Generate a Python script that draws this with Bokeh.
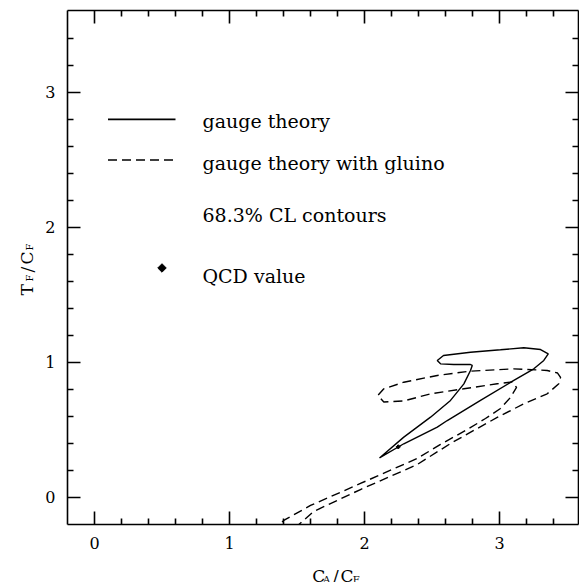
import numpy as np
from bokeh.plotting import figure
from bokeh.layouts import row, column
from bokeh.models import Range1d, LinearAxis, FixedTicker, CustomJSTickFormatter
from bokeh.core.properties import value
from bokeh.embed import file_html
from bokeh.resources import INLINE

# ---------------- data ----------------
# 68.3% CL contour, gauge theory (solid)
gauge_x = [2.111, 2.291, 2.489, 2.637, 2.736, 2.785, 2.798, 2.785, 2.661, 2.563, 2.539,
           2.585, 2.785, 3.007, 3.180, 3.304, 3.361, 3.328, 3.254, 3.106, 2.859, 2.613,
           2.539, 2.291, 2.111]
gauge_y = [0.293, 0.447, 0.595, 0.719, 0.842, 0.941, 0.978, 0.985, 0.985, 0.990, 1.015,
           1.052, 1.076, 1.094, 1.109, 1.096, 1.064, 1.015, 0.953, 0.867, 0.719, 0.570,
           0.521, 0.398, 0.293]

# 68.3% CL contour, gauge theory with gluino (dashed)
gluino_x = [1.389, 1.402, 1.600, 1.970, 2.390, 2.563, 2.761, 2.896, 3.007, 3.081, 3.126,
            3.096, 2.983, 2.736, 2.489, 2.291, 2.143, 2.099, 2.143, 2.291, 2.539, 2.785,
            3.106, 3.353, 3.430, 3.452, 3.439, 3.353, 3.180, 2.983, 2.835, 2.637, 2.390,
            1.970, 1.622, 1.489, 1.415, 1.389]
gluino_y = [-0.181, -0.170, -0.059, 0.104, 0.289, 0.393, 0.504, 0.585, 0.659, 0.741, 0.815,
            0.856, 0.842, 0.805, 0.768, 0.715, 0.707, 0.756, 0.805, 0.854, 0.904, 0.936,
            0.953, 0.941, 0.922, 0.889, 0.842, 0.768, 0.694, 0.593, 0.511, 0.400, 0.244,
            0.059, -0.104, -0.222, -0.230, -0.181]

# QCD value: C_A/C_F = 9/4, T_F/C_F = 3/8
qcd_x = [2.25]
qcd_y = [0.375]

legend_labels = ["gauge theory", "gauge theory with gluino", "68.3% CL contours", "QCD value"]

major_ticks = [0, 1, 2, 3]
minor_ticks = [0.2, 0.4, 0.6, 0.8, 1.2, 1.4, 1.6, 1.8, 2.2, 2.4, 2.6, 2.8, 3.2, 3.4]

# axis-title pieces: (text, is_subscript)
xtitle_parts = [("C", False), ("A", True), ("/", False), ("C", False), ("F", True)]
ytitle_parts = [("T", False), ("F", True), ("/", False), ("C", False), ("F", True)]

# ---------------- layout ----------------
FONT = "DejaVu Serif"
YLAB_W = 38
PW, PH = 541, 555
XLAB_H = 27
TOTAL_H = PH + XLAB_H

p = figure(width=PW, height=PH, x_range=Range1d(-0.2, 3.585), y_range=Range1d(-0.2, 3.607),
           output_backend="svg", toolbar_location=None,
           min_border_left=29, min_border_right=1, min_border_top=10, min_border_bottom=31)
p.grid.visible = False
p.outline_line_color = None
p.background_fill_color = "white"
p.border_fill_color = "white"


def style_axis(ax, labels=True):
    ax.ticker = FixedTicker(ticks=major_ticks, minor_ticks=minor_ticks)
    ax.major_tick_in = 13
    ax.major_tick_out = 0
    ax.minor_tick_in = 6
    ax.minor_tick_out = 0
    ax.axis_line_width = 1.6
    ax.major_tick_line_width = 1.6
    ax.minor_tick_line_width = 1.6
    ax.axis_line_color = "black"
    ax.major_tick_line_color = "black"
    ax.minor_tick_line_color = "black"
    if labels:
        ax.major_label_text_font = FONT
        ax.major_label_text_font_size = "16px"
        ax.major_label_text_color = "black"
        ax.major_label_standoff = 12
    else:
        ax.formatter = CustomJSTickFormatter(code="return ''")
        ax.major_label_text_font_size = "0px"
        ax.major_label_standoff = 0


style_axis(p.xaxis[0])
style_axis(p.yaxis[0])
top = LinearAxis()
right = LinearAxis()
style_axis(top, labels=False)
style_axis(right, labels=False)
p.add_layout(top, "above")
p.add_layout(right, "right")

# contours
p.line(gauge_x, gauge_y, line_color="black", line_width=1.4)
p.line(gluino_x, gluino_y, line_color="black", line_width=1.4, line_dash="9 5")
p.scatter(qcd_x, qcd_y, marker="square", angle=np.pi / 4, size=3, color="black")

# legend (drawn inside the frame, as in the reference)
leg_x0, leg_x1, leg_tx = 0.1, 0.6, 0.8
leg_line_y = [2.8, 2.5]
leg_text_y = [2.785, 2.474, 2.09, 1.637]
p.line([leg_x0, leg_x1], [leg_line_y[0]] * 2, line_color="black", line_width=1.8)
p.line([leg_x0, leg_x1], [leg_line_y[1]] * 2, line_color="black", line_width=1.4, line_dash="9 5")
p.scatter([0.5], [1.7], marker="square", angle=np.pi / 4, size=6, color="black")
p.text(x=[leg_tx] * 4, y=leg_text_y, text=legend_labels, text_font=value(FONT),
       text_font_size="19px", text_align="left", text_baseline="alphabetic", text_color="black")


# axis titles with subscripts: small companion figures (data units = pixels, y upward)
def title_fig(w, h):
    f = figure(width=w, height=h, x_range=Range1d(0, w), y_range=Range1d(0, h),
               output_backend="svg", toolbar_location=None,
               x_axis_location=None, y_axis_location=None, min_border=0)
    f.grid.visible = False
    f.outline_line_color = None
    f.background_fill_color = "white"
    f.border_fill_color = "white"
    return f


yfig = title_fig(YLAB_W, TOTAL_H)   # page x 0..38, y 0..582
xfig = title_fig(PW, XLAB_H)        # page x 38..579, y 555..582

# horizontal title: left edge of each piece (page px) and baseline (page px)
x_left = [297, 308.5, 319, 327, 340]
x_base_main, x_base_sub = 575, 578.5
for (t, is_sub), px in zip(xtitle_parts, x_left):
    xfig.text(x=[px - YLAB_W], y=[TOTAL_H - (x_base_sub if is_sub else x_base_main)], text=[t],
              text_font=value(FONT), text_font_size="10px" if is_sub else "17px",
              text_align="left", text_baseline="alphabetic", text_color="black")

# vertical title (reads bottom to top): start of each piece (page px) and baseline column
y_start = [295, 281, 272, 264, 250]
y_base_main, y_base_sub = 26, 29
for (t, is_sub), py in zip(ytitle_parts, y_start):
    yfig.text(x=[y_base_sub if is_sub else y_base_main], y=[TOTAL_H - py], text=[t],
              angle=np.pi / 2, text_font=value(FONT),
              text_font_size="10px" if is_sub else "17px",
              text_align="left", text_baseline="alphabetic", text_color="black")

layout = row(yfig, column(p, xfig, spacing=0), spacing=0)

open("out.html", "w").write(file_html(layout, INLINE))
